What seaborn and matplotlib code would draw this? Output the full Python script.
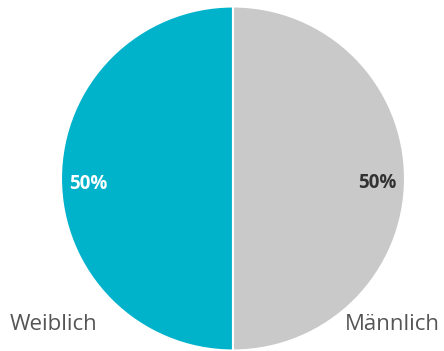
import matplotlib
matplotlib.use("Agg")
import matplotlib.pyplot as plt
import seaborn as sns

# Gender split
categories = ["Weiblich", "Männlich"]
shares = [50, 50]
slice_colors = ["#00B3CB", "#C9C9C9"]
pct_colors = ["#FFFFFF", "#333333"]

sns.set_style("white")
plt.rcParams["font.family"] = ["Open Sans", "DejaVu Sans"]

W, H = 444, 351
fig = plt.figure(figsize=(W / 100, H / 100), dpi=100)
ax = fig.add_axes([0, 0, 1, 1])

wedges, _, autotexts = ax.pie(
    shares,
    colors=slice_colors,
    startangle=90,
    counterclock=True,
    center=(233, H - 178.5),
    radius=172,
    autopct=lambda p: f"{p:.0f}%",
    pctdistance=0.84,
    wedgeprops=dict(edgecolor="white", linewidth=1.5),
    frame=True,
)
ax.set_xlim(0, W)
ax.set_ylim(0, H)
ax.set_aspect("equal")
ax.axis("off")

for t, c in zip(autotexts, pct_colors):
    t.set_color(c)
    t.set_fontsize(13.5)
    t.set_fontweight("bold")
    t.set_y(t.get_position()[1] - 5)

ax.text(10, H - 324, categories[0], ha="left", va="center",
        fontsize=16, color="#555555")
ax.text(440, H - 324, categories[1], ha="right", va="center",
        fontsize=16, color="#555555")

fig.savefig("out.png", dpi=100, facecolor="white")
